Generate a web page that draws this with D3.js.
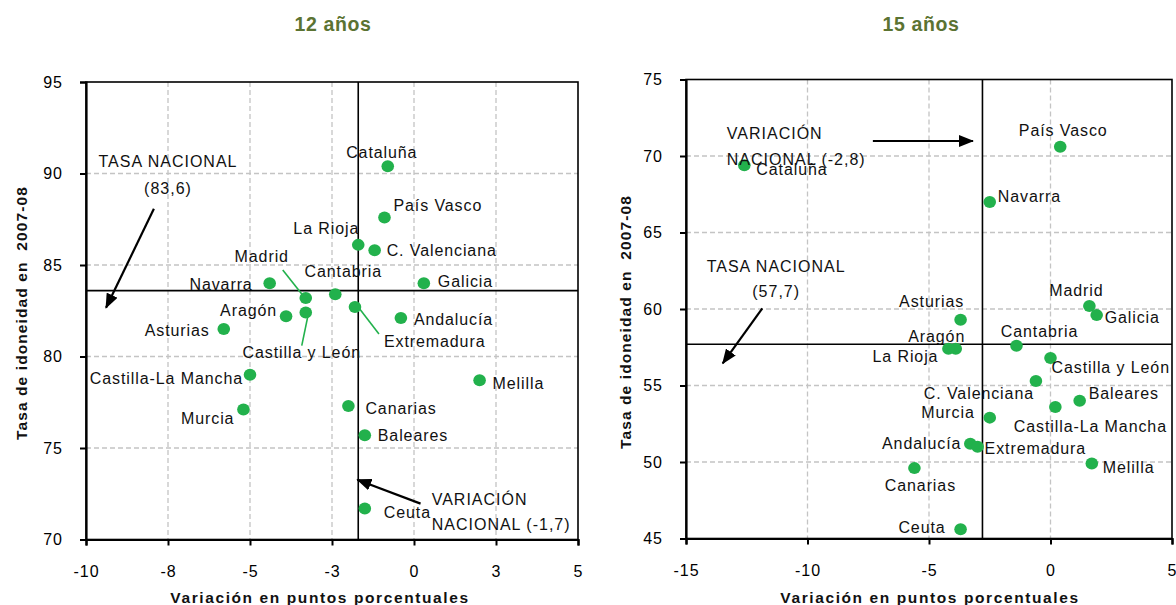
<!DOCTYPE html>
<html>
<head>
<meta charset="utf-8">
<script src="https://cdn.jsdelivr.net/npm/d3@7"></script>
<style>
body { margin: 0; background: #fff; }
text { font-family: "Liberation Sans", Arial, sans-serif; }
</style>
</head>
<body>
<svg id="chart" width="1176" height="605"></svg>
<script>
const w = 1176;
const h = 605;

// 12 años
const regions12 = ["Cataluña", "País Vasco", "La Rioja", "C. Valenciana", "Galicia", "Cantabria", "Madrid",
    "Navarra", "Aragón", "Asturias", "Castilla y León", "Extremadura", "Andalucía", "Castilla-La Mancha",
    "Murcia", "Melilla", "Canarias", "Baleares", "Ceuta"];
const var12 = [-0.8, -0.9, -1.7, -1.2, 0.3, -2.4, -3.3, -4.4, -3.9, -5.8, -3.3, -1.8, -0.4, -5.0, -5.2, 2.0, -2.0, -1.5, -1.5];
const tasa12 = [90.4, 87.6, 86.1, 85.8, 84.0, 83.4, 83.2, 84.0, 82.2, 81.5, 82.4, 82.7, 82.1, 79.0, 77.1, 78.7, 77.3, 75.7, 71.7];
const xTicks12 = [-10, -7.5, -5, -2.5, 0, 2.5, 5];
const xTickLabels12 = ["-10", "-8", "-5", "-3", "0", "3", "5"];
const yTicks12 = [70, 75, 80, 85, 90, 95];
const nat12 = { variacion: -1.7, tasa: 83.6 };

// 15 años
const regions15 = ["Cataluña", "País Vasco", "Navarra", "Madrid", "Galicia", "Asturias", "Aragón", "La Rioja",
    "Cantabria", "Castilla y León", "C. Valenciana", "Baleares", "Castilla-La Mancha", "Murcia", "Andalucía",
    "Extremadura", "Melilla", "Canarias", "Ceuta"];
const var15 = [-12.6, 0.4, -2.5, 1.6, 1.9, -3.7, -3.9, -4.2, -1.4, 0.0, -0.6, 1.2, 0.2, -2.5, -3.3, -3.0, 1.7, -5.6, -3.7];
const tasa15 = [69.4, 70.6, 67.0, 60.2, 59.6, 59.3, 57.4, 57.4, 57.6, 56.8, 55.3, 54.0, 53.6, 52.9, 51.2, 51.0, 49.9, 49.6, 45.6];
const xTicks15 = [-15, -10, -5, 0, 5];
const xTickLabels15 = ["-15", "-10", "-5", "0", "5"];
const yTicks15 = [45, 50, 55, 60, 65, 70, 75];
const nat15 = { variacion: -2.8, tasa: 57.7 };

const yTitle = "Tasa de idoneidad en  2007-08";
const xTitle = "Variación en puntos porcentuales";

// label placement (px offsets from the dot), kept apart from the data
const place12 = [[-6, -14, "middle"], [9, -12, "start"], [1, -16, "end"], [12, 0, "start"], [14, -2, "start"],
    [8, -23, "middle"], [-44, -41, "middle", [-23, -28, -4, -4]], [-17, 1, "end"], [-9, -6, "end"], [-14, 1, "end"],
    [-4, 40, "middle", [2, 4, -4, 33]], [29, 34, "start", [4, 1, 24, 27]], [13, 1, "start"], [-7, 4, "end"],
    [-9, 9, "end"], [13, 3, "start"], [17, 3, "start"], [13, 0, "start"], [19, 4, "start"]];
const place15 = [[12, 4, "start"], [3, -16, "middle"], [8, -5, "start"], [-13, -15, "middle"], [8, 2, "start"],
    [-29, -18, "middle"], [-19, -12, "middle"], [-43, 8, "middle"], [23, -14, "middle"], [1, 10, "start"],
    [-57, 13, "middle"], [9, -7, "start"], [35, 20, "middle"], [-15, -5, "end"], [-9, 0, "end"],
    [7, 2, "start"], [11, 4, "start"], [6, 17, "middle"], [-15, -2, "end"]];

const green = "#22b14c";
const svg = d3.select("#chart");

svg.append("defs").append("marker")
    .attr("id", "arrow")
    .attr("markerUnits", "userSpaceOnUse")
    .attr("markerWidth", 15).attr("markerHeight", 12)
    .attr("refX", 14).attr("refY", 6)
    .attr("orient", "auto")
    .append("path").attr("d", "M0,0 L15,6 L0,12 Z").attr("fill", "#000");

function drawPanel(p) {
    const xScale = d3.scaleLinear().domain(p.xDomain).range([p.left, p.right]);
    const yScale = d3.scaleLinear().domain(p.yDomain).range([p.bottom, p.top]);
    const g = svg.append("g");

    // grid
    g.selectAll("line.vgrid").data(p.xTicks.slice(1, -1)).enter().append("line")
        .attr("x1", d => xScale(d)).attr("x2", d => xScale(d))
        .attr("y1", p.top).attr("y2", p.bottom)
        .attr("stroke", "#c4c4c4").attr("stroke-width", 1.3).attr("stroke-dasharray", "5,3");
    g.selectAll("line.hgrid").data(p.yTicks.slice(1, -1)).enter().append("line")
        .attr("x1", p.left).attr("x2", p.right)
        .attr("y1", d => yScale(d)).attr("y2", d => yScale(d))
        .attr("stroke", "#c4c4c4").attr("stroke-width", 1.3).attr("stroke-dasharray", "5,3");

    g.append("rect")
        .attr("x", p.left).attr("y", p.top)
        .attr("width", p.right - p.left).attr("height", p.bottom - p.top)
        .attr("fill", "none").attr("stroke", "#000").attr("stroke-width", 1.6);

    // axes
    const xAxis = d3.axisBottom(xScale).tickValues(p.xTicks)
        .tickFormat((d, i) => p.xTickLabels[i]).tickSize(6).tickPadding(20);
    const yAxis = d3.axisLeft(yScale).tickValues(p.yTicks).tickSize(6).tickPadding(17);
    const gx = g.append("g").attr("transform", `translate(0,${p.bottom})`).call(xAxis);
    const gy = g.append("g").attr("transform", `translate(${p.left},0)`).call(yAxis);
    [gx, gy].forEach(a => {
        a.select(".domain").attr("stroke", "#000").attr("stroke-width", 2.2);
        a.selectAll(".tick line").attr("stroke", "#000").attr("stroke-width", 2);
        a.selectAll(".tick text").attr("fill", "#000")
            .style("font-size", "16px").style("letter-spacing", "1px")
            .style("font-family", "'Liberation Sans', Arial, sans-serif");
    });

    // national lines
    g.append("line")
        .attr("x1", xScale(p.nat.variacion)).attr("x2", xScale(p.nat.variacion))
        .attr("y1", p.top).attr("y2", p.bottom)
        .attr("stroke", "#000").attr("stroke-width", 1.6);
    g.append("line")
        .attr("x1", p.left).attr("x2", p.right)
        .attr("y1", yScale(p.nat.tasa)).attr("y2", yScale(p.nat.tasa))
        .attr("stroke", "#000").attr("stroke-width", 1.6);

    // points
    const pts = p.names.map((name, i) => ({ name: name, x: p.xs[i], y: p.ys[i], pl: p.place[i] }));

    g.selectAll("line.leader").data(pts.filter(d => d.pl[3])).enter().append("line")
        .attr("x1", d => xScale(d.x) + d.pl[3][0]).attr("y1", d => yScale(d.y) + d.pl[3][1])
        .attr("x2", d => xScale(d.x) + d.pl[3][2]).attr("y2", d => yScale(d.y) + d.pl[3][3])
        .attr("stroke", green).attr("stroke-width", 1.6);

    g.selectAll("ellipse.pt").data(pts).enter().append("ellipse")
        .attr("cx", d => xScale(d.x)).attr("cy", d => yScale(d.y))
        .attr("rx", 6.3).attr("ry", 6)
        .attr("fill", green);

    g.selectAll("text.lbl").data(pts).enter().append("text")
        .attr("x", d => xScale(d.x) + d.pl[0])
        .attr("y", d => yScale(d.y) + d.pl[1])
        .attr("text-anchor", d => d.pl[2])
        .attr("dominant-baseline", "central")
        .style("font-size", "16px").style("letter-spacing", "0.9px")
        .attr("fill", "#111")
        .text(d => d.name);

    // annotations
    p.notes.forEach(n => {
        n.lines.forEach((t, i) => {
            g.append("text")
                .attr("x", xScale(n.x)).attr("y", yScale(n.ys[i]))
                .attr("text-anchor", n.anchor)
                .attr("dominant-baseline", "central")
                .style("font-size", "16px").style("letter-spacing", "1px")
                .attr("fill", "#111")
                .text(t);
        });
        g.append("line")
            .attr("x1", xScale(n.arrow[0])).attr("y1", yScale(n.arrow[1]))
            .attr("x2", xScale(n.arrow[2])).attr("y2", yScale(n.arrow[3]))
            .attr("stroke", "#000").attr("stroke-width", 2.2)
            .attr("marker-end", "url(#arrow)");
    });

    // titles
    g.append("text")
        .attr("x", p.titleX).attr("y", 24)
        .attr("text-anchor", "middle").attr("dominant-baseline", "central")
        .style("font-size", "19.5px").style("font-weight", "bold").style("letter-spacing", "0.6px")
        .attr("fill", "#5b7332")
        .text(p.title);
    g.append("text")
        .attr("transform", `translate(${p.yTitleX},${p.yTitleY}) rotate(-90)`)
        .attr("text-anchor", "middle").attr("dominant-baseline", "central")
        .style("font-size", "15.5px").style("font-weight", "bold").style("letter-spacing", "1.1px")
        .style("white-space", "pre")
        .attr("fill", "#111")
        .text(yTitle);
    g.append("text")
        .attr("x", p.xTitleX).attr("y", 597)
        .attr("text-anchor", "middle").attr("dominant-baseline", "central")
        .style("font-size", "15.5px").style("font-weight", "bold").style("letter-spacing", "1.6px")
        .attr("fill", "#111")
        .text(xTitle);
}

drawPanel({
    names: regions12, xs: var12, ys: tasa12, place: place12,
    left: 86, right: 578, top: 82, bottom: 539.5,
    xDomain: [-10, 5], yDomain: [70, 95],
    xTicks: xTicks12, xTickLabels: xTickLabels12, yTicks: yTicks12,
    nat: nat12,
    title: "12 años", titleX: 333, yTitleX: 21, yTitleY: 313, xTitleX: 320,
    notes: [
        { lines: ["TASA NACIONAL", "(83,6)"], x: -7.5, ys: [90.65, 89.2], anchor: "middle",
          arrow: [-7.93, 88.07, -9.39, 82.66] },
        { lines: ["VARIACIÓN", "NACIONAL (-1,7)"], x: 0.54, ys: [72.18, 70.82], anchor: "start",
          arrow: [0.2, 71.96, -1.73, 73.27] }
    ]
});

drawPanel({
    names: regions15, xs: var15, ys: tasa15, place: place15,
    left: 686, right: 1172, top: 79.5, bottom: 538.5,
    xDomain: [-15, 5], yDomain: [45, 75],
    xTicks: xTicks15, xTickLabels: xTickLabels15, yTicks: yTicks15,
    nat: nat15,
    title: "15 años", titleX: 921, yTitleX: 625, yTitleY: 322, xTitleX: 930,
    notes: [
        { lines: ["VARIACIÓN", "NACIONAL (-2,8)"], x: -13.32, ys: [71.44, 69.8], anchor: "start",
          arrow: [-7.31, 70.98, -3.19, 70.98] },
        { lines: ["TASA NACIONAL", "(57,7)"], x: -11.29, ys: [62.8, 61.12], anchor: "middle",
          arrow: [-11.86, 60.04, -13.49, 56.44] }
    ]
});
</script>
</body>
</html>
